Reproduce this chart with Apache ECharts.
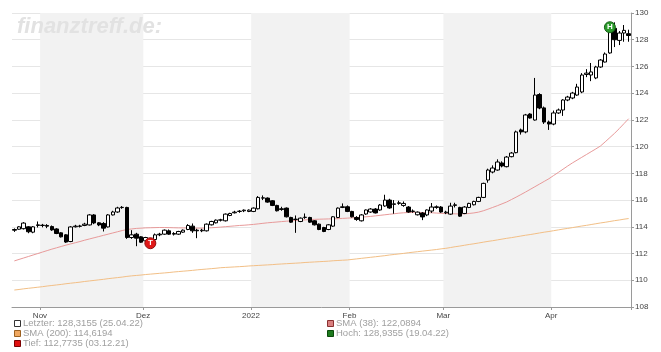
<!DOCTYPE html>
<html><head><meta charset="utf-8">
<script src="https://cdn.jsdelivr.net/npm/echarts/dist/echarts.min.js"></script>
<style>html,body{margin:0;padding:0;background:#fff}#c{width:661px;height:352px}</style>
</head><body><div id="c"></div>
<script>
// ---- categories (trading days) ----
const dates = [
'22.10.21','25.10.21','26.10.21','27.10.21','28.10.21','29.10.21',
'01.11.21','02.11.21','03.11.21','04.11.21','05.11.21','08.11.21','09.11.21','10.11.21','11.11.21','12.11.21','15.11.21','16.11.21','17.11.21','18.11.21','19.11.21','22.11.21','23.11.21','24.11.21','25.11.21','26.11.21','29.11.21','30.11.21',
'01.12.21','02.12.21','03.12.21','06.12.21','07.12.21','08.12.21','09.12.21','10.12.21','13.12.21','14.12.21','15.12.21','16.12.21','17.12.21','20.12.21','21.12.21','22.12.21','23.12.21','24.12.21','27.12.21','28.12.21','29.12.21','30.12.21','31.12.21',
'03.01.22','04.01.22','05.01.22','06.01.22','07.01.22','10.01.22','11.01.22','12.01.22','13.01.22','14.01.22','17.01.22','18.01.22','19.01.22','20.01.22','21.01.22','24.01.22','25.01.22','26.01.22','27.01.22','28.01.22','31.01.22',
'01.02.22','02.02.22','03.02.22','04.02.22','07.02.22','08.02.22','09.02.22','10.02.22','11.02.22','14.02.22','15.02.22','16.02.22','17.02.22','18.02.22','21.02.22','22.02.22','23.02.22','24.02.22','25.02.22','28.02.22',
'01.03.22','02.03.22','03.03.22','04.03.22','07.03.22','08.03.22','09.03.22','10.03.22','11.03.22','14.03.22','15.03.22','16.03.22','17.03.22','18.03.22','21.03.22','22.03.22','23.03.22','24.03.22','25.03.22','28.03.22','29.03.22','30.03.22','31.03.22',
'01.04.22','04.04.22','05.04.22','06.04.22','07.04.22','08.04.22','11.04.22','12.04.22','13.04.22','14.04.22','15.04.22','18.04.22','19.04.22','20.04.22','21.04.22','22.04.22','25.04.22'
];

// ---- tick labels ----
const tickDates  = ['01.11.21','01.12.21','03.01.22','01.02.22','01.03.22','01.04.22'];
const tickLabels = ['Nov','Dez','2022','Feb','Mar','Apr'];
const yTicks = [108,110,112,114,116,118,120,122,124,126,128,130];

// ---- OHLC ----
const open = [
113.80,113.82,113.86,114.00,113.60,114.10,114.12,114.10,114.02,113.84,
113.55,113.40,112.90,114.00,114.06,114.10,114.14,114.89,114.30,114.25,
113.99,114.89,115.11,115.44,115.45,113.20,113.45,113.25,112.95,113.05,
113.05,113.40,113.45,113.70,113.45,113.45,113.60,113.80,114.05,113.75,
113.70,113.70,114.15,114.30,114.50,114.45,114.85,115.05,115.15,115.20,
115.15,115.15,115.35,116.15,116.15,115.95,115.60,115.35,115.40,114.70,
114.55,114.40,114.70,114.70,114.45,114.20,113.95,113.80,114.05,114.70,
115.45,115.50,115.15,114.70,114.45,114.96,115.11,115.33,115.26,115.56,
116.00,115.68,115.75,115.60,115.48,115.15,114.90,115.03,114.89,115.18,
115.45,115.48,115.05,114.95,115.60,115.45,115.00,115.45,115.65,115.90,
116.20,117.50,118.10,118.25,118.78,118.50,119.25,119.55,121.25,121.10,
122.44,121.99,123.90,122.90,121.84,121.69,122.52,122.74,123.49,123.64,
123.86,124.09,125.40,125.36,125.14,125.96,126.33,127.01,128.85,127.95,
128.50,128.45
];
const close = [
113.75,114.00,114.28,113.63,114.00,114.15,114.10,114.05,113.77,113.50,
113.25,112.86,113.99,114.05,114.04,114.20,114.89,114.29,114.14,113.90,
114.89,115.11,115.41,115.46,113.20,113.40,113.15,112.85,113.20,112.7735,
113.40,113.45,113.75,113.45,113.50,113.65,113.75,114.10,113.70,113.70,
113.75,114.20,114.40,114.50,114.52,114.95,115.00,115.10,115.17,115.25,
115.25,115.40,116.20,116.17,115.85,115.60,115.20,115.30,114.75,114.35,
114.57,114.65,114.72,114.35,114.15,113.80,113.65,114.15,114.75,115.40,
115.50,115.15,114.75,114.55,114.89,115.26,115.33,115.04,115.63,116.00,
115.41,115.72,115.80,115.75,115.11,115.18,115.10,114.74,115.26,115.48,
115.50,115.11,115.10,115.55,115.65,114.80,115.48,115.75,115.90,116.20,
117.25,118.25,118.40,118.85,118.55,119.22,119.52,121.10,121.10,122.37,
122.14,123.86,122.89,121.84,121.69,122.52,122.74,123.49,123.71,124.01,
124.46,125.36,125.50,125.59,125.96,126.48,126.93,128.9355,128.00,128.50,
128.70,128.3155
];
const low = [
113.62,113.78,113.80,113.52,113.52,113.95,113.96,113.90,113.70,113.45,
113.20,112.80,112.85,113.95,113.95,114.05,114.10,114.20,114.05,113.65,
113.95,114.85,115.05,115.35,113.10,113.10,112.55,112.80,112.90,112.75,
113.00,113.30,113.40,113.40,113.35,113.40,113.55,113.75,113.55,113.15,
113.60,113.65,114.10,114.25,114.40,114.40,114.80,115.00,115.05,115.10,
115.10,115.10,115.30,116.00,115.80,115.55,115.15,115.20,114.70,114.30,
113.55,114.35,114.60,114.30,114.10,113.75,113.60,113.75,114.00,114.65,
115.40,115.10,114.70,114.45,114.40,114.90,115.05,115.00,115.20,115.50,
115.35,114.98,115.65,115.50,115.05,115.05,114.85,114.50,114.80,115.04,
115.35,115.05,114.95,114.90,115.45,114.75,114.95,115.40,115.60,115.85,
116.15,117.30,118.00,118.20,118.45,118.45,119.20,119.50,120.90,121.00,
122.10,121.95,122.80,121.70,121.25,121.60,122.45,122.30,123.40,123.55,
123.80,124.00,125.20,124.90,125.05,125.90,126.30,126.95,127.45,127.60,
127.85,127.85
];
const high = [
113.88,114.05,114.35,114.05,114.06,114.40,114.22,114.20,114.10,113.90,
113.60,113.45,114.05,114.15,114.15,114.30,114.95,114.95,114.35,114.35,
114.95,115.20,115.50,115.55,115.50,113.75,113.55,113.30,113.25,113.15,
113.50,113.55,113.80,113.80,113.60,113.70,113.80,114.20,114.25,113.85,
113.85,114.25,114.45,114.55,114.60,115.00,115.05,115.20,115.25,115.30,
115.30,115.45,116.30,116.35,116.20,116.00,115.65,115.50,115.45,114.75,
114.85,114.70,115.00,114.75,114.50,114.25,114.00,114.20,114.80,115.45,
115.75,115.60,115.20,114.80,114.95,115.30,115.40,115.40,115.70,116.40,
116.10,116.00,115.95,115.90,115.55,115.30,115.15,115.10,115.30,115.78,
115.60,115.55,115.20,115.80,115.80,115.50,115.55,115.80,115.95,116.25,
117.30,118.35,118.60,119.05,118.90,119.30,119.60,121.20,121.35,122.45,
122.50,125.14,124.00,123.00,121.95,122.70,122.85,123.55,123.80,124.10,
124.70,125.50,125.80,126.26,126.05,126.55,127.05,129.00,129.30,128.65,
129.10,128.75
];

// ---- moving averages ----
const sma38 = [
111.45,111.56,111.67,111.78,111.89,112.00,112.11,112.22,112.33,112.43,
112.53,112.63,112.72,112.81,112.90,113.00,113.09,113.18,113.27,113.36,
113.45,113.54,113.63,113.72,113.80,113.84,113.88,113.90,113.92,113.93,
113.94,113.95,113.95,113.94,113.93,113.92,113.92,113.91,113.91,113.90,
113.90,113.91,113.93,113.95,113.98,114.01,114.04,114.07,114.10,114.12,
114.15,114.18,114.22,114.26,114.30,114.33,114.36,114.39,114.42,114.45,
114.48,114.50,114.52,114.54,114.56,114.57,114.58,114.59,114.60,114.61,
114.63,114.65,114.67,114.69,114.72,114.75,114.78,114.82,114.86,114.90,
114.94,114.98,115.02,115.05,115.07,115.08,115.08,115.07,115.06,115.05,
115.03,115.01,115.00,114.98,114.97,114.96,114.97,115.00,115.04,115.10,
115.20,115.32,115.45,115.58,115.72,115.86,116.04,116.22,116.41,116.60,
116.80,117.00,117.20,117.40,117.60,117.84,118.07,118.31,118.55,118.78,
118.99,119.20,119.41,119.62,119.83,120.05,120.36,120.68,121.00,121.35,
121.72,122.0894
];
const sma200 = [
109.27,109.31,109.36,109.40,109.44,109.48,109.52,109.57,109.61,109.65,
109.69,109.74,109.78,109.82,109.86,109.91,109.95,109.99,110.03,110.07,
110.12,110.16,110.20,110.24,110.29,110.33,110.36,110.39,110.43,110.46,
110.49,110.52,110.55,110.58,110.62,110.65,110.68,110.71,110.74,110.78,
110.81,110.84,110.87,110.90,110.94,110.96,110.98,111.00,111.02,111.04,
111.07,111.09,111.11,111.13,111.15,111.17,111.20,111.22,111.24,111.26,
111.28,111.30,111.33,111.35,111.37,111.39,111.41,111.43,111.46,111.48,
111.50,111.52,111.56,111.60,111.64,111.68,111.72,111.76,111.80,111.84,
111.89,111.93,111.97,112.01,112.06,112.10,112.14,112.18,112.22,112.26,
112.30,112.35,112.39,112.45,112.51,112.56,112.62,112.68,112.73,112.79,
112.85,112.91,112.96,113.02,113.08,113.14,113.19,113.25,113.31,113.37,
113.42,113.48,113.54,113.60,113.65,113.71,113.77,113.83,113.88,113.94,
114.00,114.06,114.11,114.17,114.23,114.29,114.34,114.40,114.46,114.51,
114.57,114.6194
];

// ---- legend entries ----
const legendTexts = [
  'Letzter: 128,3155 (25.04.22)',
  'SMA (38): 122,0894',
  'SMA (200): 114,6194',
  'Hoch: 128,9355 (19.04.22)',
  'Tief: 112,7735 (03.12.21)'
];

const FONT = "'Liberation Sans', Arial, sans-serif";
const labelMap = {};
tickDates.forEach((d, k) => { labelMap[d] = tickLabels[k]; });
const isTick = (idx, val) => labelMap[val] !== undefined;

const ohlc = dates.map((d, i) => [open[i], close[i], low[i], high[i]]);
const hiIdx = close.indexOf(Math.max.apply(null, close));
const loIdx = close.indexOf(Math.min.apply(null, close));

const chart = echarts.init(document.getElementById('c'), null, {renderer: 'canvas'});

function legendItem(x, y, fill, stroke, text) {
  return [
    {type: 'rect', left: x, top: y - 3, shape: {width: 6, height: 6},
     style: {fill: fill, stroke: stroke, lineWidth: 1}, z: 10},
    {type: 'text', left: x + 9, top: y - 5,
     style: {text: text, fill: '#a0a0a0', font: '9.5px ' + FONT}, z: 10}
  ];
}

const graphics = [
  {type: 'text', left: 17, top: 16, z: 50,
   style: {text: 'finanztreff.de:', fill: '#e2e2e2', font: 'italic bold 22px ' + FONT}}
]
.concat(legendItem(14, 323, '#ffffff', '#333333', legendTexts[0]))
.concat(legendItem(327, 323, '#d97f7f', '#8a3030', legendTexts[1]))
.concat(legendItem(14, 333, '#f0a860', '#9a6020', legendTexts[2]))
.concat(legendItem(327, 333, '#1d7a1d', '#0a4a0a', legendTexts[3]))
.concat(legendItem(14, 343, '#e01010', '#7a0000', legendTexts[4]));

chart.setOption({
  animation: false,
  backgroundColor: '#ffffff',
  textStyle: {fontFamily: FONT},
  grid: {left: 12, right: 30, top: 13, bottom: 45, containLabel: false},
  xAxis: {
    type: 'category', data: dates, boundaryGap: true,
    axisLine: {show: true, lineStyle: {color: '#9a9a9a', width: 1}},
    axisTick: {show: true, length: 3, interval: isTick, lineStyle: {color: '#9a9a9a'}},
    axisLabel: {interval: isTick, formatter: v => labelMap[v] || '', fontSize: 8,
                color: '#444', margin: 5, padding: [0, 5, 0, 0], fontFamily: FONT},
    splitLine: {show: false},
    splitArea: {show: true, interval: isTick,
                areaStyle: {color: ['rgba(255,255,255,0)', '#f2f2f2']}}
  },
  yAxis: {
    type: 'value', position: 'right', min: yTicks[0], max: yTicks[yTicks.length - 1], interval: 2,
    axisLine: {show: true, lineStyle: {color: '#9a9a9a', width: 1}},
    axisTick: {show: true, length: 3, lineStyle: {color: '#9a9a9a'}},
    axisLabel: {fontSize: 8, color: '#444', margin: 4, fontFamily: FONT},
    splitLine: {show: true, lineStyle: {color: '#e6e6e6', width: 1}},
    splitArea: {show: false}
  },
  graphic: graphics,
  series: [
    {type: 'line', name: 'SMA (200)', data: sma200, symbol: 'none', z: 1,
     lineStyle: {color: '#f2bf86', width: 1}, silent: true},
    {type: 'line', name: 'SMA (38)', data: sma38, symbol: 'none', z: 1,
     lineStyle: {color: '#e89a9a', width: 1}, silent: true},
    {type: 'candlestick', name: 'Kurs', data: ohlc, z: 3, barWidth: 4,
     itemStyle: {color: '#ffffff', color0: '#000000', borderColor: '#000000', borderColor0: '#000000', borderWidth: 1},
     markPoint: {
       symbol: 'circle', symbolSize: 11,
       label: {show: true, color: '#ffffff', fontSize: 8, fontWeight: 'bold', fontFamily: FONT},
       data: [
         {coord: [dates[hiIdx], close[hiIdx]], value: 'H', label: {formatter: 'H'},
          itemStyle: {color: '#2a9a2a', borderColor: '#176017', borderWidth: 1}},
         {coord: [dates[loIdx], close[loIdx]], value: 'T', label: {formatter: 'T'},
          itemStyle: {color: '#e01818', borderColor: '#901010', borderWidth: 1}}
       ]
     }}
  ]
});
</script>
</body></html>
